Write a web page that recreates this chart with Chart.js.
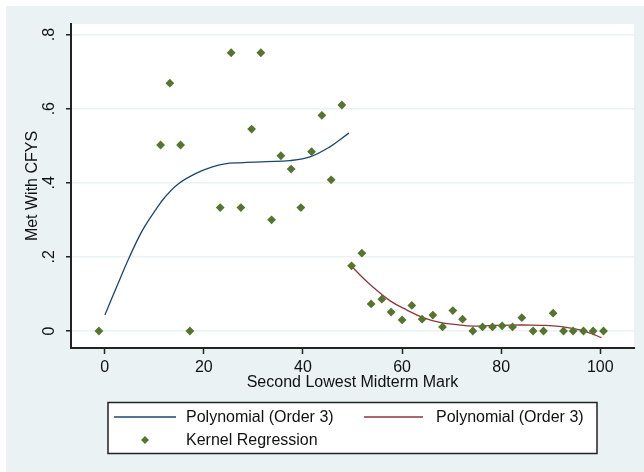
<!DOCTYPE html>
<html>
<head>
<meta charset="utf-8">
<script src="https://cdn.jsdelivr.net/npm/chart.js@4.4.1/dist/chart.umd.min.js"></script>
<style>
html,body{margin:0;padding:0;background:#fff;}
canvas{display:block;}
</style>
</head>
<body>
<canvas id="c" width="644" height="472"></canvas>
<script>
// ---- data ----
const kernelX = [-1.17, 11.28, 13.15, 15.31, 17.19, 23.30, 25.52, 27.48, 29.64, 31.51, 33.67, 35.55, 37.62, 39.58, 41.74, 43.82, 45.69, 47.85,
                 49.81, 51.89, 53.76, 55.92, 57.80, 60.02, 61.97, 64.05, 66.21, 68.17, 70.25, 72.20, 74.28, 76.24, 78.25, 80.19, 82.29, 84.16,
                 86.44, 88.54, 90.48, 92.58, 94.51, 96.61, 98.55, 100.65];
const kernelY = [0, 0.502, 0.669, 0.502, 0, 0.333, 0.751, 0.333, 0.545, 0.751, 0.300, 0.473, 0.437, 0.333, 0.484, 0.582, 0.408, 0.610,
                 0.176, 0.210, 0.073, 0.086, 0.051, 0.030, 0.069, 0.032, 0.043, 0.011, 0.055, 0.032, 0, 0.011, 0.011, 0.014, 0.011, 0.036,
                 0, 0, 0.048, 0, 0, 0, 0, 0];
const polyLowX  = [0.04, 2.72, 4.74, 6.76, 8.11, 10.13, 12.14, 14.83, 18.2, 21.57, 24.25, 27.27, 32.66, 37.36, 41.40, 45.43, 49.26];
const polyLowY  = [0.043, 0.129, 0.192, 0.250, 0.283, 0.324, 0.361, 0.397, 0.424, 0.442, 0.451, 0.454, 0.457, 0.460, 0.470, 0.497, 0.534];
const polyHighX = [49.81, 51.83, 54.17, 57.53, 60.9, 64.25, 67.62, 70.99, 74.34, 78, 82, 86, 89, 92.2, 95.9, 98, 100.24];
const polyHighY = [0.175, 0.147, 0.118, 0.082, 0.057, 0.036, 0.023, 0.017, 0.013, 0.015, 0.016, 0.016, 0.015, 0.012, 0.003, -0.006, -0.018];
const xTicks = [0, 20, 40, 60, 80, 100];
const yTicks = [0, 0.2, 0.4, 0.6, 0.8];
const yTickLabels = ['0', '.2', '.4', '.6', '.8'];
const seriesLabels = ['Polynomial (Order 3)', 'Polynomial (Order 3)', 'Kernel Regression'];
const xTitle = 'Second Lowest Midterm Mark';
const yTitle = 'Met With CFYS';

const toPts = (xs, ys) => xs.map((x, i) => ({x: x, y: ys[i]}));

const BG = '#eaf2f3';
const FONT = '"Liberation Sans", Arial, sans-serif';
const NAVY = '#1a476f', MAROON = '#90353b', GREEN = '#55752f';

const bgPlugin = {
  id: 'bg',
  beforeDraw(chart) {
    const ctx = chart.ctx, a = chart.chartArea;
    ctx.save();
    ctx.fillStyle = '#ffffff';
    ctx.fillRect(0, 0, chart.width, chart.height);
    ctx.fillStyle = BG;
    ctx.fillRect(6, 6, chart.width - 6, chart.height - 6);
    ctx.fillStyle = '#ffffff';
    ctx.fillRect(a.left, a.top, a.right - a.left, a.bottom - a.top);
    ctx.restore();
  }
};

const legendPlugin = {
  id: 'boxLegend',
  afterDraw(chart) {
    const ctx = chart.ctx;
    const ds = chart.data.datasets;
    ctx.save();
    ctx.fillStyle = '#ffffff';
    ctx.fillRect(108, 402.5, 489, 51);
    ctx.strokeStyle = '#222';
    ctx.lineWidth = 1.5;
    ctx.strokeRect(108, 402.5, 489, 51);
    ctx.font = '16px ' + FONT;
    ctx.fillStyle = '#111';
    ctx.textBaseline = 'middle';
    ctx.textAlign = 'left';
    // row 1
    ctx.lineWidth = 1.3;
    ctx.strokeStyle = ds[0].borderColor;
    ctx.beginPath(); ctx.moveTo(114, 417); ctx.lineTo(176, 417); ctx.stroke();
    ctx.fillText(ds[0].label, 186, 418);
    ctx.strokeStyle = ds[1].borderColor;
    ctx.beginPath(); ctx.moveTo(364, 417); ctx.lineTo(423, 417); ctx.stroke();
    ctx.fillText(ds[1].label, 436, 418);
    // row 2
    ctx.fillStyle = ds[2].backgroundColor;
    ctx.beginPath();
    ctx.moveTo(145, 436); ctx.lineTo(149, 440); ctx.lineTo(145, 444); ctx.lineTo(141, 440); ctx.closePath();
    ctx.fill();
    ctx.fillStyle = '#111';
    ctx.fillText(ds[2].label, 186, 441);
    ctx.restore();
  }
};

new Chart(document.getElementById('c'), {
  type: 'scatter',
  data: {
    datasets: [
      { label: seriesLabels[0], type: 'line', data: toPts(polyLowX, polyLowY), showLine: true,
        borderColor: NAVY, backgroundColor: NAVY, borderWidth: 1.3, pointRadius: 0, fill: false,
        tension: 0.4, order: 2 },
      { label: seriesLabels[1], type: 'line', data: toPts(polyHighX, polyHighY), showLine: true,
        borderColor: MAROON, backgroundColor: MAROON, borderWidth: 1.3, pointRadius: 0, fill: false,
        tension: 0.4, order: 1 },
      { label: seriesLabels[2], data: toPts(kernelX, kernelY), pointStyle: 'rectRot', pointRadius: 4.4,
        pointBorderWidth: 0, backgroundColor: GREEN, borderColor: GREEN, order: 0 }
    ]
  },
  options: {
    responsive: false,
    devicePixelRatio: 1,
    animation: false,
    layout: { padding: { left: 0, top: 24, right: 10, bottom: 79.4 } },
    plugins: { legend: { display: false }, tooltip: { enabled: false } },
    scales: {
      x: {
        type: 'linear', min: -6.8, max: 106.8,
        afterBuildTicks(s) { s.ticks = xTicks.map(v => ({value: v})); },
        afterFit(s) { s.height = 44.6; },
        ticks: { font: { family: FONT, size: 16 }, color: '#111', padding: 4, maxRotation: 0 },
        grid: { drawOnChartArea: false, drawTicks: true, tickLength: 6, tickColor: '#222', tickWidth: 1.5 },
        border: { display: true, color: '#222', width: 2 },
        title: { display: true, text: xTitle, font: { family: FONT, size: 16 }, color: '#111', padding: { top: 0, bottom: 0 } }
      },
      y: {
        type: 'linear', min: -0.0459, max: 0.8286,
        afterBuildTicks(s) { s.ticks = yTicks.map(v => ({value: v})); },
        afterFit(s) { s.width = 71; },
        ticks: { font: { family: FONT, size: 16 }, color: '#111', padding: 10, minRotation: 90, maxRotation: 90,
                 crossAlign: 'center',
                 callback(v) { const i = yTicks.findIndex(t => Math.abs(t - v) < 1e-9); return i >= 0 ? yTickLabels[i] : ''; } },
        grid: { color: BG, lineWidth: 1.5, drawTicks: true, tickLength: 5, tickColor: '#222', tickWidth: 1.5 },
        border: { display: true, color: '#222', width: 2 },
        title: { display: true, text: yTitle, font: { family: FONT, size: 16 }, color: '#111', padding: { top: 23, bottom: 0 } }
      }
    }
  },
  plugins: [bgPlugin, legendPlugin]
});
</script>
</body>
</html>
